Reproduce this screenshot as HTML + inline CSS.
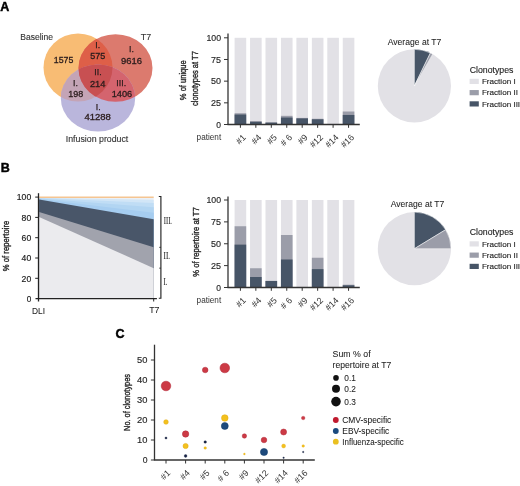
<!DOCTYPE html>
<html><head><meta charset="utf-8"><style>
html,body{margin:0;padding:0;background:#fff;}
body{width:520px;height:486px;overflow:hidden;font-family:"Liberation Sans", sans-serif;}
svg{display:block;will-change:transform;filter:blur(0.3px);}
</style></head><body>
<svg width="520" height="486" viewBox="0 0 520 486">
<rect width="520" height="486" fill="#fff"/>
<text x="0.3" y="11" font-size="12.5" text-anchor="start" fill="#000" font-weight="bold" font-family="Liberation Sans" stroke="#000" stroke-width="0.45" >A</text>
<text x="0.8" y="172.3" font-size="12.5" text-anchor="start" fill="#000" font-weight="bold" font-family="Liberation Sans" stroke="#000" stroke-width="0.45" >B</text>
<text x="115.5" y="338.2" font-size="12.5" text-anchor="start" fill="#000" font-weight="bold" font-family="Liberation Sans" stroke="#000" stroke-width="0.45" >C</text>
<defs>
<clipPath id="cO"><ellipse cx="78" cy="67.5" rx="34.5" ry="34" /></clipPath>
<clipPath id="cR"><ellipse cx="115.5" cy="68" rx="37" ry="33.8" /></clipPath>
<clipPath id="cP"><ellipse cx="98" cy="98" rx="37.2" ry="33.5" /></clipPath>
</defs>
<ellipse cx="78" cy="67.5" rx="34.5" ry="34" fill="#F8BC74"/>
<ellipse cx="115.5" cy="68" rx="37" ry="33.8" fill="#DC7A6E"/>
<ellipse cx="98" cy="98" rx="37.2" ry="33.5" fill="#BAB6DC"/>
<g clip-path="url(#cO)"><ellipse cx="115.5" cy="68" rx="37" ry="33.8" fill="#DE5F48"/><ellipse cx="98" cy="98" rx="37.2" ry="33.5" fill="#C4A4B6"/></g>
<g clip-path="url(#cR)"><ellipse cx="98" cy="98" rx="37.2" ry="33.5" fill="#D4646E"/></g>
<g clip-path="url(#cO)"><g clip-path="url(#cR)"><ellipse cx="98" cy="98" rx="37.2" ry="33.5" fill="#C85052"/></g></g>
<text x="20.2" y="39.8" font-size="8.9" text-anchor="start" fill="#333" font-weight="normal" font-family="Liberation Sans" textLength="32.8" lengthAdjust="spacingAndGlyphs" stroke="#333" stroke-width="0.12" >Baseline</text>
<text x="140.8" y="39.9" font-size="8.9" text-anchor="start" fill="#333" font-weight="normal" font-family="Liberation Sans" stroke="#333" stroke-width="0.12" >T7</text>
<text x="65.8" y="142.0" font-size="8.8" text-anchor="start" fill="#333" font-weight="normal" font-family="Liberation Sans" textLength="62.5" lengthAdjust="spacingAndGlyphs" stroke="#333" stroke-width="0.12" >Infusion product</text>
<text x="63.6" y="62.7" font-size="8.2" text-anchor="middle" fill="#2a1c1c" font-weight="normal" font-family="Liberation Sans" textLength="19.5" lengthAdjust="spacingAndGlyphs" stroke="#2a1c1c" stroke-width="0.28" >1575</text>
<text x="97.8" y="47.8" font-size="8.8" text-anchor="middle" fill="#2a1c1c" font-weight="normal" font-family="Liberation Sans" stroke="#2a1c1c" stroke-width="0.25" >I.</text>
<text x="97.8" y="59.0" font-size="8.2" text-anchor="middle" fill="#2a1c1c" font-weight="normal" font-family="Liberation Sans" textLength="15" lengthAdjust="spacingAndGlyphs" stroke="#2a1c1c" stroke-width="0.28" >575</text>
<text x="131.5" y="52.3" font-size="8.8" text-anchor="middle" fill="#2a1c1c" font-weight="normal" font-family="Liberation Sans" stroke="#2a1c1c" stroke-width="0.25" >I.</text>
<text x="131.6" y="63.5" font-size="8.2" text-anchor="middle" fill="#2a1c1c" font-weight="normal" font-family="Liberation Sans" textLength="21" lengthAdjust="spacingAndGlyphs" stroke="#2a1c1c" stroke-width="0.28" >9616</text>
<text x="98.0" y="75.2" font-size="8.8" text-anchor="middle" fill="#2a1c1c" font-weight="normal" font-family="Liberation Sans" stroke="#2a1c1c" stroke-width="0.25" >II.</text>
<text x="97.7" y="86.5" font-size="8.2" text-anchor="middle" fill="#2a1c1c" font-weight="normal" font-family="Liberation Sans" textLength="15.5" lengthAdjust="spacingAndGlyphs" stroke="#2a1c1c" stroke-width="0.28" >214</text>
<text x="75.5" y="85.8" font-size="8.8" text-anchor="middle" fill="#2a1c1c" font-weight="normal" font-family="Liberation Sans" stroke="#2a1c1c" stroke-width="0.25" >I.</text>
<text x="75.8" y="97.0" font-size="8.2" text-anchor="middle" fill="#2a1c1c" font-weight="normal" font-family="Liberation Sans" textLength="15" lengthAdjust="spacingAndGlyphs" stroke="#2a1c1c" stroke-width="0.28" >198</text>
<text x="121.2" y="85.8" font-size="8.8" text-anchor="middle" fill="#2a1c1c" font-weight="normal" font-family="Liberation Sans" stroke="#2a1c1c" stroke-width="0.25" >III.</text>
<text x="122.0" y="97.0" font-size="8.2" text-anchor="middle" fill="#2a1c1c" font-weight="normal" font-family="Liberation Sans" textLength="20.5" lengthAdjust="spacingAndGlyphs" stroke="#2a1c1c" stroke-width="0.28" >1406</text>
<text x="98.3" y="109.6" font-size="8.8" text-anchor="middle" fill="#2a1c1c" font-weight="normal" font-family="Liberation Sans" stroke="#2a1c1c" stroke-width="0.25" >I.</text>
<text x="97.7" y="120.0" font-size="8.2" text-anchor="middle" fill="#2a1c1c" font-weight="normal" font-family="Liberation Sans" textLength="26.5" lengthAdjust="spacingAndGlyphs" stroke="#2a1c1c" stroke-width="0.28" >41288</text>
<rect x="234.60" y="37.80" width="11.6" height="86.70" fill="#E2E1E6"/>
<rect x="234.60" y="113.23" width="11.6" height="11.27" fill="#9B9DA9"/>
<rect x="234.60" y="114.53" width="11.6" height="9.97" fill="#475567"/>
<line x1="240.40" y1="124.5" x2="240.40" y2="127.8" stroke="#333" stroke-width="1"/>
<text transform="translate(246.50,137.90) rotate(-45)" font-size="8.9" text-anchor="end" fill="#333" font-family="Liberation Sans">#1</text>
<rect x="250.05" y="37.80" width="11.6" height="86.70" fill="#E2E1E6"/>
<rect x="250.05" y="121.03" width="11.6" height="3.47" fill="#9B9DA9"/>
<rect x="250.05" y="121.90" width="11.6" height="2.60" fill="#475567"/>
<line x1="255.85" y1="124.5" x2="255.85" y2="127.8" stroke="#333" stroke-width="1"/>
<text transform="translate(261.95,137.90) rotate(-45)" font-size="8.9" text-anchor="end" fill="#333" font-family="Liberation Sans">#4</text>
<rect x="265.50" y="37.80" width="11.6" height="86.70" fill="#E2E1E6"/>
<rect x="265.50" y="122.16" width="11.6" height="2.34" fill="#9B9DA9"/>
<rect x="265.50" y="122.77" width="11.6" height="1.73" fill="#475567"/>
<line x1="271.30" y1="124.5" x2="271.30" y2="127.8" stroke="#333" stroke-width="1"/>
<text transform="translate(277.40,137.90) rotate(-45)" font-size="8.9" text-anchor="end" fill="#333" font-family="Liberation Sans">#5</text>
<rect x="280.95" y="37.80" width="11.6" height="86.70" fill="#E2E1E6"/>
<rect x="280.95" y="115.83" width="11.6" height="8.67" fill="#9B9DA9"/>
<rect x="280.95" y="117.56" width="11.6" height="6.94" fill="#475567"/>
<line x1="286.75" y1="124.5" x2="286.75" y2="127.8" stroke="#333" stroke-width="1"/>
<text transform="translate(292.85,137.90) rotate(-45)" font-size="8.9" text-anchor="end" fill="#333" font-family="Liberation Sans"># 6</text>
<rect x="296.40" y="37.80" width="11.6" height="86.70" fill="#E2E1E6"/>
<rect x="296.40" y="117.91" width="11.6" height="6.59" fill="#9B9DA9"/>
<rect x="296.40" y="118.43" width="11.6" height="6.07" fill="#475567"/>
<line x1="302.20" y1="124.5" x2="302.20" y2="127.8" stroke="#333" stroke-width="1"/>
<text transform="translate(308.30,137.90) rotate(-45)" font-size="8.9" text-anchor="end" fill="#333" font-family="Liberation Sans">#9</text>
<rect x="311.85" y="37.80" width="11.6" height="86.70" fill="#E2E1E6"/>
<rect x="311.85" y="118.78" width="11.6" height="5.72" fill="#9B9DA9"/>
<rect x="311.85" y="119.30" width="11.6" height="5.20" fill="#475567"/>
<line x1="317.65" y1="124.5" x2="317.65" y2="127.8" stroke="#333" stroke-width="1"/>
<text transform="translate(323.75,137.90) rotate(-45)" font-size="8.9" text-anchor="end" fill="#333" font-family="Liberation Sans">#12</text>
<rect x="327.30" y="37.80" width="11.6" height="86.70" fill="#E2E1E6"/>
<rect x="327.30" y="124.07" width="11.6" height="0.43" fill="#9B9DA9"/>
<rect x="327.30" y="124.24" width="11.6" height="0.26" fill="#475567"/>
<line x1="333.10" y1="124.5" x2="333.10" y2="127.8" stroke="#333" stroke-width="1"/>
<text transform="translate(339.20,137.90) rotate(-45)" font-size="8.9" text-anchor="end" fill="#333" font-family="Liberation Sans">#14</text>
<rect x="342.75" y="37.80" width="11.6" height="86.70" fill="#E2E1E6"/>
<rect x="342.75" y="111.50" width="11.6" height="13.00" fill="#9B9DA9"/>
<rect x="342.75" y="114.96" width="11.6" height="9.54" fill="#475567"/>
<line x1="348.55" y1="124.5" x2="348.55" y2="127.8" stroke="#333" stroke-width="1"/>
<text transform="translate(354.65,137.90) rotate(-45)" font-size="8.9" text-anchor="end" fill="#333" font-family="Liberation Sans">#16</text>
<line x1="228.0" y1="33.6" x2="228.0" y2="124.5" stroke="#333" stroke-width="1.3"/>
<line x1="227.4" y1="124.5" x2="359.8" y2="124.5" stroke="#333" stroke-width="1.3"/>
<line x1="224.0" y1="124.50" x2="228.0" y2="124.50" stroke="#333" stroke-width="1"/>
<text x="221.1" y="127.6" font-size="8.5" text-anchor="end" fill="#2a2a2a" font-weight="normal" font-family="Liberation Sans" stroke="#2a2a2a" stroke-width="0.16" >0</text>
<line x1="224.0" y1="102.83" x2="228.0" y2="102.83" stroke="#333" stroke-width="1"/>
<text x="221.1" y="105.925" font-size="8.5" text-anchor="end" fill="#2a2a2a" font-weight="normal" font-family="Liberation Sans" textLength="10.0" lengthAdjust="spacingAndGlyphs" stroke="#2a2a2a" stroke-width="0.16" >25</text>
<line x1="224.0" y1="81.15" x2="228.0" y2="81.15" stroke="#333" stroke-width="1"/>
<text x="221.1" y="84.25" font-size="8.5" text-anchor="end" fill="#2a2a2a" font-weight="normal" font-family="Liberation Sans" textLength="10.0" lengthAdjust="spacingAndGlyphs" stroke="#2a2a2a" stroke-width="0.16" >50</text>
<line x1="224.0" y1="59.47" x2="228.0" y2="59.47" stroke="#333" stroke-width="1"/>
<text x="221.1" y="62.574999999999996" font-size="8.5" text-anchor="end" fill="#2a2a2a" font-weight="normal" font-family="Liberation Sans" textLength="10.0" lengthAdjust="spacingAndGlyphs" stroke="#2a2a2a" stroke-width="0.16" >75</text>
<line x1="224.0" y1="37.80" x2="228.0" y2="37.80" stroke="#333" stroke-width="1"/>
<text x="221.1" y="40.9" font-size="8.5" text-anchor="end" fill="#2a2a2a" font-weight="normal" font-family="Liberation Sans" textLength="14.6" lengthAdjust="spacingAndGlyphs" stroke="#2a2a2a" stroke-width="0.16" >100</text>
<text x="196.6" y="139.9" font-size="8.5" text-anchor="start" fill="#333" font-weight="normal" font-family="Liberation Sans" textLength="24.6" lengthAdjust="spacingAndGlyphs" >patient</text>
<text transform="translate(186.2,80.25) rotate(-90)" font-size="9.6" text-anchor="middle" fill="#2a2a2a" stroke="#2a2a2a" stroke-width="0.38" font-family="Liberation Sans" textLength="39.9" lengthAdjust="spacingAndGlyphs">% of unique</text>
<text transform="translate(198.4,78.6) rotate(-90)" font-size="9.6" text-anchor="middle" fill="#2a2a2a" stroke="#2a2a2a" stroke-width="0.38" font-family="Liberation Sans" textLength="54.8" lengthAdjust="spacingAndGlyphs">clonotypes at T7</text>
<rect x="234.60" y="200.00" width="11.6" height="87.50" fill="#E2E1E6"/>
<rect x="234.60" y="226.25" width="11.6" height="61.25" fill="#9B9DA9"/>
<rect x="234.60" y="244.62" width="11.6" height="42.88" fill="#475567"/>
<line x1="240.40" y1="287.5" x2="240.40" y2="290.8" stroke="#333" stroke-width="1"/>
<text transform="translate(246.50,300.90) rotate(-45)" font-size="8.9" text-anchor="end" fill="#333" font-family="Liberation Sans">#1</text>
<rect x="250.05" y="200.00" width="11.6" height="87.50" fill="#E2E1E6"/>
<rect x="250.05" y="268.25" width="11.6" height="19.25" fill="#9B9DA9"/>
<rect x="250.05" y="277.00" width="11.6" height="10.50" fill="#475567"/>
<line x1="255.85" y1="287.5" x2="255.85" y2="290.8" stroke="#333" stroke-width="1"/>
<text transform="translate(261.95,300.90) rotate(-45)" font-size="8.9" text-anchor="end" fill="#333" font-family="Liberation Sans">#4</text>
<rect x="265.50" y="200.00" width="11.6" height="87.50" fill="#E2E1E6"/>
<rect x="265.50" y="280.94" width="11.6" height="6.56" fill="#9B9DA9"/>
<rect x="265.50" y="280.94" width="11.6" height="6.56" fill="#475567"/>
<line x1="271.30" y1="287.5" x2="271.30" y2="290.8" stroke="#333" stroke-width="1"/>
<text transform="translate(277.40,300.90) rotate(-45)" font-size="8.9" text-anchor="end" fill="#333" font-family="Liberation Sans">#5</text>
<rect x="280.95" y="200.00" width="11.6" height="87.50" fill="#E2E1E6"/>
<rect x="280.95" y="235.00" width="11.6" height="52.50" fill="#9B9DA9"/>
<rect x="280.95" y="259.50" width="11.6" height="28.00" fill="#475567"/>
<line x1="286.75" y1="287.5" x2="286.75" y2="290.8" stroke="#333" stroke-width="1"/>
<text transform="translate(292.85,300.90) rotate(-45)" font-size="8.9" text-anchor="end" fill="#333" font-family="Liberation Sans"># 6</text>
<rect x="296.40" y="200.00" width="11.6" height="87.50" fill="#E2E1E6"/>
<rect x="296.40" y="286.98" width="11.6" height="0.53" fill="#9B9DA9"/>
<rect x="296.40" y="287.15" width="11.6" height="0.35" fill="#475567"/>
<line x1="302.20" y1="287.5" x2="302.20" y2="290.8" stroke="#333" stroke-width="1"/>
<text transform="translate(308.30,300.90) rotate(-45)" font-size="8.9" text-anchor="end" fill="#333" font-family="Liberation Sans">#9</text>
<rect x="311.85" y="200.00" width="11.6" height="87.50" fill="#E2E1E6"/>
<rect x="311.85" y="257.75" width="11.6" height="29.75" fill="#9B9DA9"/>
<rect x="311.85" y="269.12" width="11.6" height="18.38" fill="#475567"/>
<line x1="317.65" y1="287.5" x2="317.65" y2="290.8" stroke="#333" stroke-width="1"/>
<text transform="translate(323.75,300.90) rotate(-45)" font-size="8.9" text-anchor="end" fill="#333" font-family="Liberation Sans">#12</text>
<rect x="327.30" y="200.00" width="11.6" height="87.50" fill="#E2E1E6"/>
<rect x="327.30" y="287.15" width="11.6" height="0.35" fill="#9B9DA9"/>
<rect x="327.30" y="287.32" width="11.6" height="0.18" fill="#475567"/>
<line x1="333.10" y1="287.5" x2="333.10" y2="290.8" stroke="#333" stroke-width="1"/>
<text transform="translate(339.20,300.90) rotate(-45)" font-size="8.9" text-anchor="end" fill="#333" font-family="Liberation Sans">#14</text>
<rect x="342.75" y="200.00" width="11.6" height="87.50" fill="#E2E1E6"/>
<rect x="342.75" y="284.70" width="11.6" height="2.80" fill="#9B9DA9"/>
<rect x="342.75" y="285.31" width="11.6" height="2.19" fill="#475567"/>
<line x1="348.55" y1="287.5" x2="348.55" y2="290.8" stroke="#333" stroke-width="1"/>
<text transform="translate(354.65,300.90) rotate(-45)" font-size="8.9" text-anchor="end" fill="#333" font-family="Liberation Sans">#16</text>
<line x1="228.0" y1="196.6" x2="228.0" y2="287.5" stroke="#333" stroke-width="1.3"/>
<line x1="227.4" y1="287.5" x2="359.8" y2="287.5" stroke="#333" stroke-width="1.3"/>
<line x1="224.0" y1="287.50" x2="228.0" y2="287.50" stroke="#333" stroke-width="1"/>
<text x="221.1" y="290.6" font-size="8.5" text-anchor="end" fill="#2a2a2a" font-weight="normal" font-family="Liberation Sans" stroke="#2a2a2a" stroke-width="0.16" >0</text>
<line x1="224.0" y1="265.62" x2="228.0" y2="265.62" stroke="#333" stroke-width="1"/>
<text x="221.1" y="268.725" font-size="8.5" text-anchor="end" fill="#2a2a2a" font-weight="normal" font-family="Liberation Sans" textLength="10.0" lengthAdjust="spacingAndGlyphs" stroke="#2a2a2a" stroke-width="0.16" >25</text>
<line x1="224.0" y1="243.75" x2="228.0" y2="243.75" stroke="#333" stroke-width="1"/>
<text x="221.1" y="246.85" font-size="8.5" text-anchor="end" fill="#2a2a2a" font-weight="normal" font-family="Liberation Sans" textLength="10.0" lengthAdjust="spacingAndGlyphs" stroke="#2a2a2a" stroke-width="0.16" >50</text>
<line x1="224.0" y1="221.88" x2="228.0" y2="221.88" stroke="#333" stroke-width="1"/>
<text x="221.1" y="224.975" font-size="8.5" text-anchor="end" fill="#2a2a2a" font-weight="normal" font-family="Liberation Sans" textLength="10.0" lengthAdjust="spacingAndGlyphs" stroke="#2a2a2a" stroke-width="0.16" >75</text>
<line x1="224.0" y1="200.00" x2="228.0" y2="200.00" stroke="#333" stroke-width="1"/>
<text x="221.1" y="203.1" font-size="8.5" text-anchor="end" fill="#2a2a2a" font-weight="normal" font-family="Liberation Sans" textLength="14.6" lengthAdjust="spacingAndGlyphs" stroke="#2a2a2a" stroke-width="0.16" >100</text>
<text x="196.6" y="302.9" font-size="8.5" text-anchor="start" fill="#333" font-weight="normal" font-family="Liberation Sans" textLength="24.6" lengthAdjust="spacingAndGlyphs" >patient</text>
<text transform="translate(198.7,242.0) rotate(-90)" font-size="9.6" text-anchor="middle" fill="#2a2a2a" stroke="#2a2a2a" stroke-width="0.38" font-family="Liberation Sans" textLength="69.6" lengthAdjust="spacingAndGlyphs">% of repertoire at T7</text>
<circle cx="414.4" cy="85.9" r="36.6" fill="#E2E1E6"/>
<path d="M414.4,85.9 L414.40,49.30 A36.6,36.6 0 0 1 430.40,52.98 Z" fill="#475567" stroke="#fff" stroke-width="0.5" stroke-linejoin="round"/>
<path d="M414.4,85.9 L430.40,52.98 A36.6,36.6 0 0 1 432.63,54.17 Z" fill="#9B9DA9" stroke="#fff" stroke-width="0.5" stroke-linejoin="round"/>
<text x="387.7" y="44.9" font-size="8.6" text-anchor="start" fill="#222" font-weight="normal" font-family="Liberation Sans" textLength="53.6" lengthAdjust="spacingAndGlyphs" stroke="#222" stroke-width="0.06" >Average at T7</text>
<text x="469.7" y="72.5" font-size="8.7" text-anchor="start" fill="#222" font-weight="normal" font-family="Liberation Sans" textLength="43.8" lengthAdjust="spacingAndGlyphs" stroke="#222" stroke-width="0.12" >Clonotypes</text>
<rect x="469.6" y="78.80" width="9.2" height="5.2" fill="#E2E1E6"/>
<text x="481.9" y="84.1" font-size="8.1" text-anchor="start" fill="#222" font-weight="normal" font-family="Liberation Sans" stroke="#222" stroke-width="0.12" >Fraction I</text>
<rect x="469.6" y="90.05" width="9.2" height="5.2" fill="#9B9DA9"/>
<text x="481.9" y="95.35" font-size="8.1" text-anchor="start" fill="#222" font-weight="normal" font-family="Liberation Sans" stroke="#222" stroke-width="0.12" >Fraction II</text>
<rect x="469.6" y="101.30" width="9.2" height="5.2" fill="#475567"/>
<text x="481.9" y="106.6" font-size="8.1" text-anchor="start" fill="#222" font-weight="normal" font-family="Liberation Sans" stroke="#222" stroke-width="0.12" >Fraction III</text>
<circle cx="414.4" cy="248.7" r="36.6" fill="#E2E1E6"/>
<path d="M414.4,248.7 L414.40,212.10 A36.6,36.6 0 0 1 445.67,229.67 Z" fill="#475567" stroke="#fff" stroke-width="0.5" stroke-linejoin="round"/>
<path d="M414.4,248.7 L445.67,229.67 A36.6,36.6 0 0 1 451.00,248.70 Z" fill="#9B9DA9" stroke="#fff" stroke-width="0.5" stroke-linejoin="round"/>
<text x="390.7" y="206.9" font-size="8.6" text-anchor="start" fill="#222" font-weight="normal" font-family="Liberation Sans" textLength="53.6" lengthAdjust="spacingAndGlyphs" stroke="#222" stroke-width="0.06" >Average at T7</text>
<text x="469.7" y="235.0" font-size="8.7" text-anchor="start" fill="#222" font-weight="normal" font-family="Liberation Sans" textLength="43.8" lengthAdjust="spacingAndGlyphs" stroke="#222" stroke-width="0.12" >Clonotypes</text>
<rect x="469.6" y="241.30" width="9.2" height="5.2" fill="#E2E1E6"/>
<text x="481.9" y="246.60000000000002" font-size="8.1" text-anchor="start" fill="#222" font-weight="normal" font-family="Liberation Sans" stroke="#222" stroke-width="0.12" >Fraction I</text>
<rect x="469.6" y="252.55" width="9.2" height="5.2" fill="#9B9DA9"/>
<text x="481.9" y="257.85" font-size="8.1" text-anchor="start" fill="#222" font-weight="normal" font-family="Liberation Sans" stroke="#222" stroke-width="0.12" >Fraction II</text>
<rect x="469.6" y="263.80" width="9.2" height="5.2" fill="#475567"/>
<text x="481.9" y="269.1" font-size="8.1" text-anchor="start" fill="#222" font-weight="normal" font-family="Liberation Sans" stroke="#222" stroke-width="0.12" >Fraction III</text>
<polygon points="39.1,298.60 39.1,197.51 153.7,197.51 153.7,298.60" fill="#ECF0F5"/>
<polygon points="39.1,298.60 39.1,197.71 153.7,199.68 153.7,298.60" fill="#D2E6F7"/>
<polygon points="39.1,298.60 39.1,198.01 153.7,202.94 153.7,298.60" fill="#C0DDF5"/>
<polygon points="39.1,298.60 39.1,198.42 153.7,207.28 153.7,298.60" fill="#B2D5F2"/>
<polygon points="39.1,298.60 39.1,198.93 153.7,212.71 153.7,298.60" fill="#A6CDF0"/>
<polygon points="39.1,298.60 39.1,199.54 153.7,219.23 153.7,298.60" fill="#495669"/>
<polygon points="39.1,298.60 39.1,212.12 153.7,247.34 153.7,298.60" fill="#A1A3AD"/>
<polygon points="39.1,298.60 39.1,216.89 153.7,268.15 153.7,298.60" fill="#EBEBEE"/>
<line x1="39.1" y1="197.30" x2="153.7" y2="197.30" stroke="#F5C592" stroke-width="1.6"/>
<line x1="38.5" y1="193.2" x2="38.5" y2="301.5" stroke="#222" stroke-width="1.3"/>
<line x1="35.5" y1="298.6" x2="156.9" y2="298.6" stroke="#222" stroke-width="1.3"/>
<line x1="153.7" y1="298.6" x2="153.7" y2="301.5" stroke="#222" stroke-width="1"/>
<line x1="35.2" y1="278.30" x2="38.5" y2="278.30" stroke="#222" stroke-width="1"/>
<line x1="35.2" y1="258.00" x2="38.5" y2="258.00" stroke="#222" stroke-width="1"/>
<line x1="35.2" y1="237.70" x2="38.5" y2="237.70" stroke="#222" stroke-width="1"/>
<line x1="35.2" y1="217.40" x2="38.5" y2="217.40" stroke="#222" stroke-width="1"/>
<line x1="35.2" y1="197.10" x2="38.5" y2="197.10" stroke="#222" stroke-width="1"/>
<text x="31.2" y="301.90000000000003" font-size="8.2" text-anchor="end" fill="#222" font-weight="normal" font-family="Liberation Sans" stroke="#222" stroke-width="0.16" >0</text>
<text x="31.2" y="281.6" font-size="8.2" text-anchor="end" fill="#222" font-weight="normal" font-family="Liberation Sans" textLength="9.6" lengthAdjust="spacingAndGlyphs" stroke="#222" stroke-width="0.16" >20</text>
<text x="31.2" y="261.3" font-size="8.2" text-anchor="end" fill="#222" font-weight="normal" font-family="Liberation Sans" textLength="9.6" lengthAdjust="spacingAndGlyphs" stroke="#222" stroke-width="0.16" >40</text>
<text x="31.2" y="241.00000000000006" font-size="8.2" text-anchor="end" fill="#222" font-weight="normal" font-family="Liberation Sans" textLength="9.6" lengthAdjust="spacingAndGlyphs" stroke="#222" stroke-width="0.16" >60</text>
<text x="31.2" y="220.70000000000005" font-size="8.2" text-anchor="end" fill="#222" font-weight="normal" font-family="Liberation Sans" textLength="9.6" lengthAdjust="spacingAndGlyphs" stroke="#222" stroke-width="0.16" >80</text>
<text x="31.2" y="200.40000000000003" font-size="8.2" text-anchor="end" fill="#222" font-weight="normal" font-family="Liberation Sans" textLength="14.4" lengthAdjust="spacingAndGlyphs" stroke="#222" stroke-width="0.16" >100</text>
<text x="32.1" y="313.7" font-size="8.8" text-anchor="start" fill="#222" font-weight="normal" font-family="Liberation Sans" textLength="13" lengthAdjust="spacingAndGlyphs" stroke="#222" stroke-width="0.06" >DLI</text>
<text x="149.2" y="313.1" font-size="8.8" text-anchor="start" fill="#222" font-weight="normal" font-family="Liberation Sans" stroke="#222" stroke-width="0.06" >T7</text>
<text transform="translate(8.7,246.0) rotate(-90)" font-size="9.6" text-anchor="middle" fill="#2a2a2a" stroke="#2a2a2a" stroke-width="0.38" font-family="Liberation Sans" textLength="50.4" lengthAdjust="spacingAndGlyphs">% of repertoire</text>
<path d="M158.8,196.5 H160.9 V298.2 H158.8" fill="none" stroke="#222" stroke-width="1.15"/>
<line x1="159.3" y1="247.34" x2="161" y2="247.34" stroke="#333" stroke-width="1"/>
<line x1="159.3" y1="268.15" x2="161" y2="268.15" stroke="#333" stroke-width="1"/>
<text x="163.8" y="223.6" font-size="9.3" text-anchor="start" fill="#2a2a2a" font-weight="normal" font-family="Liberation Serif" textLength="8.2" lengthAdjust="spacingAndGlyphs" stroke="#2a2a2a" stroke-width="0.1" >III.</text>
<text x="163.6" y="259.4" font-size="9.3" text-anchor="start" fill="#2a2a2a" font-weight="normal" font-family="Liberation Serif" textLength="6.5" lengthAdjust="spacingAndGlyphs" stroke="#2a2a2a" stroke-width="0.1" >II.</text>
<text x="163.6" y="285.4" font-size="9.3" text-anchor="start" fill="#2a2a2a" font-weight="normal" font-family="Liberation Serif" textLength="3.9" lengthAdjust="spacingAndGlyphs" stroke="#2a2a2a" stroke-width="0.1" >I.</text>
<line x1="154.5" y1="344.7" x2="154.5" y2="460" stroke="#333" stroke-width="1.3"/>
<line x1="153.9" y1="460" x2="314.8" y2="460" stroke="#333" stroke-width="1.3"/>
<line x1="150.9" y1="460.0" x2="154.5" y2="460.0" stroke="#333" stroke-width="1"/>
<text x="147.5" y="463.1" font-size="8.6" text-anchor="end" fill="#2a2a2a" font-weight="normal" font-family="Liberation Sans" stroke="#2a2a2a" stroke-width="0.16" >0</text>
<line x1="150.9" y1="440.0" x2="154.5" y2="440.0" stroke="#333" stroke-width="1"/>
<text x="147.5" y="443.1" font-size="8.6" text-anchor="end" fill="#2a2a2a" font-weight="normal" font-family="Liberation Sans" textLength="10.4" lengthAdjust="spacingAndGlyphs" stroke="#2a2a2a" stroke-width="0.16" >10</text>
<line x1="150.9" y1="420.0" x2="154.5" y2="420.0" stroke="#333" stroke-width="1"/>
<text x="147.5" y="423.1" font-size="8.6" text-anchor="end" fill="#2a2a2a" font-weight="normal" font-family="Liberation Sans" textLength="10.4" lengthAdjust="spacingAndGlyphs" stroke="#2a2a2a" stroke-width="0.16" >20</text>
<line x1="150.9" y1="400.0" x2="154.5" y2="400.0" stroke="#333" stroke-width="1"/>
<text x="147.5" y="403.1" font-size="8.6" text-anchor="end" fill="#2a2a2a" font-weight="normal" font-family="Liberation Sans" textLength="10.4" lengthAdjust="spacingAndGlyphs" stroke="#2a2a2a" stroke-width="0.16" >30</text>
<line x1="150.9" y1="380.0" x2="154.5" y2="380.0" stroke="#333" stroke-width="1"/>
<text x="147.5" y="383.1" font-size="8.6" text-anchor="end" fill="#2a2a2a" font-weight="normal" font-family="Liberation Sans" textLength="10.4" lengthAdjust="spacingAndGlyphs" stroke="#2a2a2a" stroke-width="0.16" >40</text>
<line x1="150.9" y1="360.0" x2="154.5" y2="360.0" stroke="#333" stroke-width="1"/>
<text x="147.5" y="363.1" font-size="8.6" text-anchor="end" fill="#2a2a2a" font-weight="normal" font-family="Liberation Sans" textLength="10.4" lengthAdjust="spacingAndGlyphs" stroke="#2a2a2a" stroke-width="0.16" >50</text>
<text transform="translate(129.6,402.5) rotate(-90)" font-size="9.8" text-anchor="middle" fill="#2a2a2a" stroke="#2a2a2a" stroke-width="0.38" font-family="Liberation Sans" textLength="56.8" lengthAdjust="spacingAndGlyphs">No. of clonotypes</text>
<circle cx="166.00" cy="386.00" r="4.8" fill="#CC3A45" stroke="#B02838" stroke-width="0.5"/>
<circle cx="166.00" cy="422.00" r="2.3" fill="#F3C11E" stroke="#E0A810" stroke-width="0.5"/>
<circle cx="166.00" cy="438.00" r="1.1" fill="#182448" stroke="#101a38" stroke-width="0.3"/>
<circle cx="185.60" cy="434.00" r="3.2" fill="#CC3A45" stroke="#B02838" stroke-width="0.5"/>
<circle cx="185.60" cy="446.00" r="2.6" fill="#F3C11E" stroke="#E0A810" stroke-width="0.5"/>
<circle cx="185.60" cy="456.00" r="1.4" fill="#182448" stroke="#101a38" stroke-width="0.3"/>
<circle cx="205.20" cy="370.00" r="2.8" fill="#CC3A45" stroke="#B02838" stroke-width="0.5"/>
<circle cx="205.20" cy="442.00" r="1.3" fill="#182448" stroke="#101a38" stroke-width="0.3"/>
<circle cx="205.20" cy="448.00" r="1.3" fill="#F3C11E" stroke="#E0A810" stroke-width="0.3"/>
<circle cx="224.80" cy="368.00" r="4.8" fill="#CC3A45" stroke="#B02838" stroke-width="0.5"/>
<circle cx="224.80" cy="418.00" r="3.3" fill="#F3C11E" stroke="#E0A810" stroke-width="0.5"/>
<circle cx="224.80" cy="426.00" r="3.5" fill="#1D4A7C" stroke="#103A68" stroke-width="0.5"/>
<circle cx="244.40" cy="436.00" r="2.2" fill="#CC3A45" stroke="#B02838" stroke-width="0.5"/>
<circle cx="244.40" cy="454.00" r="0.9" fill="#F3C11E" stroke="#E0A810" stroke-width="0.3"/>
<circle cx="264.00" cy="440.00" r="2.8" fill="#CC3A45" stroke="#B02838" stroke-width="0.5"/>
<circle cx="264.00" cy="452.00" r="3.6" fill="#1D4A7C" stroke="#103A68" stroke-width="0.5"/>
<circle cx="283.60" cy="432.00" r="3.0" fill="#CC3A45" stroke="#B02838" stroke-width="0.5"/>
<circle cx="283.60" cy="446.00" r="2.0" fill="#F3C11E" stroke="#E0A810" stroke-width="0.3"/>
<circle cx="283.60" cy="457.80" r="0.8" fill="#182448" stroke="#101a38" stroke-width="0.3"/>
<circle cx="303.20" cy="418.00" r="1.8" fill="#CC3A45" stroke="#B02838" stroke-width="0.3"/>
<circle cx="303.20" cy="446.00" r="1.3" fill="#F3C11E" stroke="#E0A810" stroke-width="0.3"/>
<circle cx="303.20" cy="452.00" r="0.8" fill="#182448" stroke="#101a38" stroke-width="0.3"/>
<line x1="166.00" y1="460" x2="166.00" y2="463.5" stroke="#333" stroke-width="1"/>
<text transform="translate(170.90,473.60) rotate(-45)" font-size="8.8" text-anchor="end" fill="#333" font-family="Liberation Sans">#1</text>
<line x1="185.60" y1="460" x2="185.60" y2="463.5" stroke="#333" stroke-width="1"/>
<text transform="translate(190.50,473.60) rotate(-45)" font-size="8.8" text-anchor="end" fill="#333" font-family="Liberation Sans">#4</text>
<line x1="205.20" y1="460" x2="205.20" y2="463.5" stroke="#333" stroke-width="1"/>
<text transform="translate(210.10,473.60) rotate(-45)" font-size="8.8" text-anchor="end" fill="#333" font-family="Liberation Sans">#5</text>
<line x1="224.80" y1="460" x2="224.80" y2="463.5" stroke="#333" stroke-width="1"/>
<text transform="translate(229.70,473.60) rotate(-45)" font-size="8.8" text-anchor="end" fill="#333" font-family="Liberation Sans"># 6</text>
<line x1="244.40" y1="460" x2="244.40" y2="463.5" stroke="#333" stroke-width="1"/>
<text transform="translate(249.30,473.60) rotate(-45)" font-size="8.8" text-anchor="end" fill="#333" font-family="Liberation Sans">#9</text>
<line x1="264.00" y1="460" x2="264.00" y2="463.5" stroke="#333" stroke-width="1"/>
<text transform="translate(268.90,473.60) rotate(-45)" font-size="8.8" text-anchor="end" fill="#333" font-family="Liberation Sans">#12</text>
<line x1="283.60" y1="460" x2="283.60" y2="463.5" stroke="#333" stroke-width="1"/>
<text transform="translate(288.50,473.60) rotate(-45)" font-size="8.8" text-anchor="end" fill="#333" font-family="Liberation Sans">#14</text>
<line x1="303.20" y1="460" x2="303.20" y2="463.5" stroke="#333" stroke-width="1"/>
<text transform="translate(308.10,473.60) rotate(-45)" font-size="8.8" text-anchor="end" fill="#333" font-family="Liberation Sans">#16</text>
<text x="332.6" y="357.1" font-size="8.3" text-anchor="start" fill="#222" font-weight="normal" font-family="Liberation Sans" textLength="38" lengthAdjust="spacingAndGlyphs" stroke="#222" stroke-width="0.06" >Sum % of</text>
<text x="332.6" y="368.2" font-size="8.3" text-anchor="start" fill="#222" font-weight="normal" font-family="Liberation Sans" textLength="58.7" lengthAdjust="spacingAndGlyphs" stroke="#222" stroke-width="0.06" >repertoire at T7</text>
<circle cx="336.0" cy="377.9" r="2.8" fill="#111"/>
<text x="344.3" y="380.9" font-size="8.3" text-anchor="start" fill="#222" font-weight="normal" font-family="Liberation Sans" stroke="#222" stroke-width="0.06" >0.1</text>
<circle cx="336.0" cy="388.8" r="4.0" fill="#111"/>
<text x="344.3" y="391.8" font-size="8.3" text-anchor="start" fill="#222" font-weight="normal" font-family="Liberation Sans" stroke="#222" stroke-width="0.06" >0.2</text>
<circle cx="336.0" cy="401.6" r="4.8" fill="#111"/>
<text x="344.3" y="404.6" font-size="8.3" text-anchor="start" fill="#222" font-weight="normal" font-family="Liberation Sans" stroke="#222" stroke-width="0.06" >0.3</text>
<circle cx="335.8" cy="420" r="2.9" fill="#C01A2E"/>
<text x="342.3" y="423.0" font-size="8.2" text-anchor="start" fill="#222" font-weight="normal" font-family="Liberation Sans" textLength="49" lengthAdjust="spacingAndGlyphs" stroke="#222" stroke-width="0.06" >CMV-specific</text>
<circle cx="335.8" cy="431" r="2.9" fill="#1A4A7E"/>
<text x="342.3" y="434.0" font-size="8.2" text-anchor="start" fill="#222" font-weight="normal" font-family="Liberation Sans" textLength="47" lengthAdjust="spacingAndGlyphs" stroke="#222" stroke-width="0.06" >EBV-specific</text>
<circle cx="335.8" cy="441.7" r="2.9" fill="#EAC020"/>
<text x="342.3" y="444.7" font-size="8.2" text-anchor="start" fill="#222" font-weight="normal" font-family="Liberation Sans" textLength="61.5" lengthAdjust="spacingAndGlyphs" stroke="#222" stroke-width="0.06" >Influenza-specific</text>
</svg>
</body></html>
